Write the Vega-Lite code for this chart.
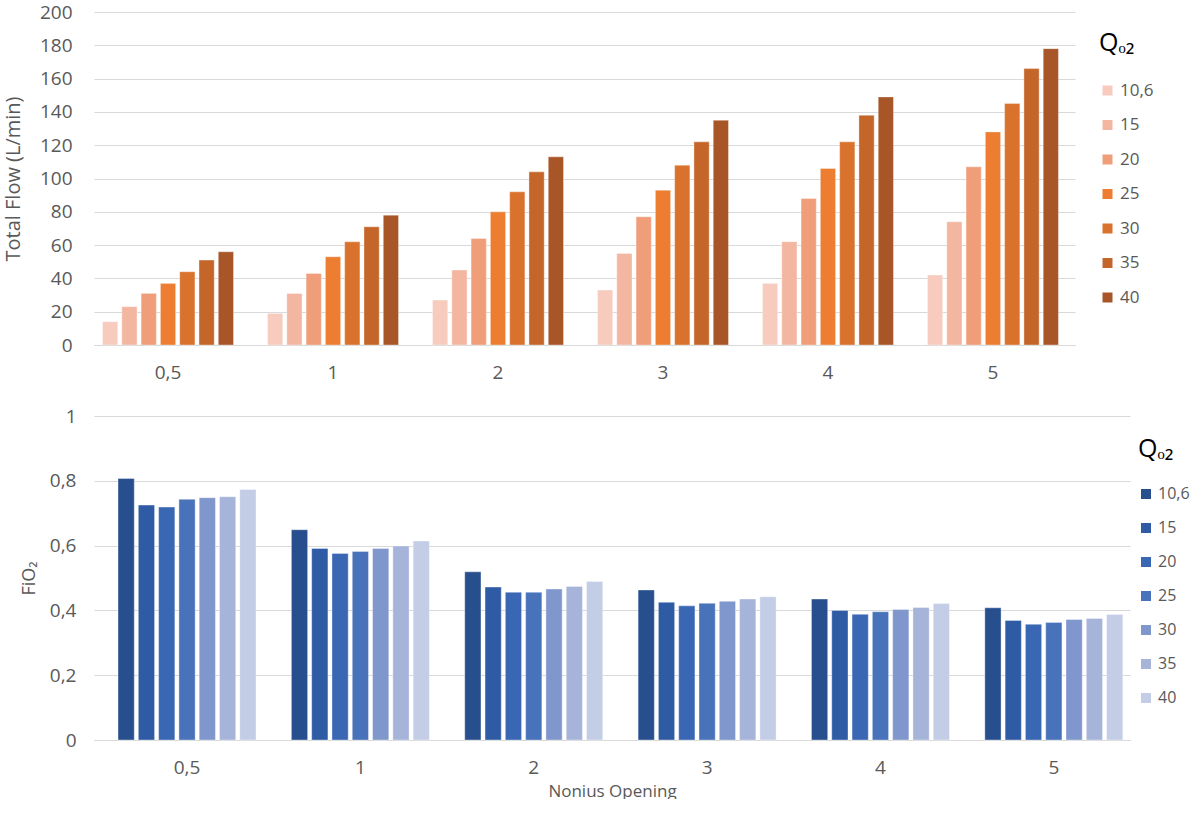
{
  "$schema": "https://vega.github.io/schema/vega-lite/v6.json",
  "padding": {"top": 3, "left": 3, "right": 0, "bottom": 0},
  "background": "white",
  "config": {
    "font": "Open Sans",
    "view": {"stroke": null},
    "axis": {
      "labelFont": "Open Sans",
      "titleFont": "Open Sans",
      "labelColor": "#595959",
      "titleColor": "#595959",
      "titleFontWeight": "normal",
      "gridColor": "#D9D9D9",
      "gridWidth": 1.2,
      "domainColor": "#D9D9D9",
      "domainWidth": 1.2,
      "ticks": false
    },
    "legend": {
      "titleFont": "Open Sans",
      "labelFont": "Open Sans",
      "titleFontWeight": "normal",
      "titleColor": "#000000",
      "titleFontSize": 25,
      "labelColor": "#595959",
      "labelFontSize": 16,
      "symbolType": "square",
      "symbolSize": 100,
      "symbolStrokeWidth": 0,
      "rowPadding": 18,
      "labelOffset": 4,
      "padding": 0
    }
  },
  "datasets": {
    "flow": [
      {"nonius": "0,5", "q": "10,6", "flow": 14},
      {"nonius": "0,5", "q": "15", "flow": 23},
      {"nonius": "0,5", "q": "20", "flow": 31},
      {"nonius": "0,5", "q": "25", "flow": 37},
      {"nonius": "0,5", "q": "30", "flow": 44},
      {"nonius": "0,5", "q": "35", "flow": 51},
      {"nonius": "0,5", "q": "40", "flow": 56},
      {"nonius": "1", "q": "10,6", "flow": 19},
      {"nonius": "1", "q": "15", "flow": 31},
      {"nonius": "1", "q": "20", "flow": 43},
      {"nonius": "1", "q": "25", "flow": 53},
      {"nonius": "1", "q": "30", "flow": 62},
      {"nonius": "1", "q": "35", "flow": 71},
      {"nonius": "1", "q": "40", "flow": 78},
      {"nonius": "2", "q": "10,6", "flow": 27},
      {"nonius": "2", "q": "15", "flow": 45},
      {"nonius": "2", "q": "20", "flow": 64},
      {"nonius": "2", "q": "25", "flow": 80},
      {"nonius": "2", "q": "30", "flow": 92},
      {"nonius": "2", "q": "35", "flow": 104},
      {"nonius": "2", "q": "40", "flow": 113},
      {"nonius": "3", "q": "10,6", "flow": 33},
      {"nonius": "3", "q": "15", "flow": 55},
      {"nonius": "3", "q": "20", "flow": 77},
      {"nonius": "3", "q": "25", "flow": 93},
      {"nonius": "3", "q": "30", "flow": 108},
      {"nonius": "3", "q": "35", "flow": 122},
      {"nonius": "3", "q": "40", "flow": 135},
      {"nonius": "4", "q": "10,6", "flow": 37},
      {"nonius": "4", "q": "15", "flow": 62},
      {"nonius": "4", "q": "20", "flow": 88},
      {"nonius": "4", "q": "25", "flow": 106},
      {"nonius": "4", "q": "30", "flow": 122},
      {"nonius": "4", "q": "35", "flow": 138},
      {"nonius": "4", "q": "40", "flow": 149},
      {"nonius": "5", "q": "10,6", "flow": 42},
      {"nonius": "5", "q": "15", "flow": 74},
      {"nonius": "5", "q": "20", "flow": 107},
      {"nonius": "5", "q": "25", "flow": 128},
      {"nonius": "5", "q": "30", "flow": 145},
      {"nonius": "5", "q": "35", "flow": 166},
      {"nonius": "5", "q": "40", "flow": 178}
    ],
    "fio2": [
      {"nonius": "0,5", "q": "10,6", "fio2": 0.807},
      {"nonius": "0,5", "q": "15", "fio2": 0.725},
      {"nonius": "0,5", "q": "20", "fio2": 0.719},
      {"nonius": "0,5", "q": "25", "fio2": 0.743},
      {"nonius": "0,5", "q": "30", "fio2": 0.748},
      {"nonius": "0,5", "q": "35", "fio2": 0.751},
      {"nonius": "0,5", "q": "40", "fio2": 0.773},
      {"nonius": "1", "q": "10,6", "fio2": 0.649},
      {"nonius": "1", "q": "15", "fio2": 0.591},
      {"nonius": "1", "q": "20", "fio2": 0.576},
      {"nonius": "1", "q": "25", "fio2": 0.582},
      {"nonius": "1", "q": "30", "fio2": 0.591},
      {"nonius": "1", "q": "35", "fio2": 0.599},
      {"nonius": "1", "q": "40", "fio2": 0.614},
      {"nonius": "2", "q": "10,6", "fio2": 0.519},
      {"nonius": "2", "q": "15", "fio2": 0.472},
      {"nonius": "2", "q": "20", "fio2": 0.456},
      {"nonius": "2", "q": "25", "fio2": 0.456},
      {"nonius": "2", "q": "30", "fio2": 0.466},
      {"nonius": "2", "q": "35", "fio2": 0.474},
      {"nonius": "2", "q": "40", "fio2": 0.489},
      {"nonius": "3", "q": "10,6", "fio2": 0.463},
      {"nonius": "3", "q": "15", "fio2": 0.425},
      {"nonius": "3", "q": "20", "fio2": 0.414},
      {"nonius": "3", "q": "25", "fio2": 0.422},
      {"nonius": "3", "q": "30", "fio2": 0.428},
      {"nonius": "3", "q": "35", "fio2": 0.435},
      {"nonius": "3", "q": "40", "fio2": 0.442},
      {"nonius": "4", "q": "10,6", "fio2": 0.435},
      {"nonius": "4", "q": "15", "fio2": 0.400},
      {"nonius": "4", "q": "20", "fio2": 0.388},
      {"nonius": "4", "q": "25", "fio2": 0.396},
      {"nonius": "4", "q": "30", "fio2": 0.403},
      {"nonius": "4", "q": "35", "fio2": 0.409},
      {"nonius": "4", "q": "40", "fio2": 0.421},
      {"nonius": "5", "q": "10,6", "fio2": 0.408},
      {"nonius": "5", "q": "15", "fio2": 0.369},
      {"nonius": "5", "q": "20", "fio2": 0.357},
      {"nonius": "5", "q": "25", "fio2": 0.363},
      {"nonius": "5", "q": "30", "fio2": 0.372},
      {"nonius": "5", "q": "35", "fio2": 0.375},
      {"nonius": "5", "q": "40", "fio2": 0.387}
    ]
  },
  "spacing": 25,
  "resolve": {"scale": {"color": "independent", "x": "independent", "xOffset": "independent"}, "legend": {"color": "independent"}},
  "vconcat": [
    {
      "width": 981,
      "height": 333,
      "data": {"name": "flow"},
      "mark": {"type": "bar", "stroke": "#ffffff", "strokeWidth": 0.6, "strokeOpacity": 0.6},
      "encoding": {
        "x": {
          "field": "nonius", "type": "nominal", "sort": null,
          "scale": {"paddingInner": 0.206, "paddingOuter": 0.076, "align": 0.34},
          "axis": {"title": null, "labelAngle": 0, "labelPadding": 18, "labelFontSize": 19}
        },
        "xOffset": {"field": "q", "type": "nominal", "sort": null, "scale": {"paddingInner": 0.21}},
        "y": {
          "field": "flow", "type": "quantitative",
          "scale": {"domain": [0, 200]},
          "axis": {
            "title": "Total Flow (L/min)", "titleFontSize": 20, "titlePadding": 16,
            "values": [0, 20, 40, 60, 80, 100, 120, 140, 160, 180, 200],
            "labelFontSize": 19, "labelPadding": 22, "domain": false
          }
        },
        "color": {
          "field": "q", "type": "nominal", "sort": null,
          "scale": {
            "domain": ["10,6", "15", "20", "25", "30", "35", "40"],
            "range": ["#F7CBBD", "#F3B6A1", "#F09E79", "#ED7D31", "#D9722D", "#C4662A", "#A85628"]
          },
          "legend": {"title": ["", "Q\u2092\u2082"], "titleLineHeight": 19, "orient": "right", "offset": 24, "titlePadding": 26, "labelFontSize": 17, "rowPadding": 16.5}
        }
      }
    },
    {
      "width": 1036,
      "height": 324,
      "data": {"name": "fio2"},
      "mark": {"type": "bar", "stroke": "#ffffff", "strokeWidth": 0.6, "strokeOpacity": 0.6},
      "encoding": {
        "x": {
          "field": "nonius", "type": "nominal", "sort": null,
          "scale": {"paddingInner": 0.204, "paddingOuter": 0.09, "align": 0.77},
          "axis": {"title": "Nonius Opening", "titleFontSize": 17, "titlePadding": 6, "labelAngle": 0, "labelPadding": 18, "labelFontSize": 19}
        },
        "xOffset": {"field": "q", "type": "nominal", "sort": null, "scale": {"paddingInner": 0.2}},
        "y": {
          "field": "fio2", "type": "quantitative",
          "scale": {"domain": [0, 1]},
          "axis": {
            "title": "FiO\u2082", "titleFontSize": 18, "titlePadding": 11,
            "values": [0, 0.2, 0.4, 0.6, 0.8, 1],
            "labelExpr": "replace(format(datum.value, '~g'), '.', ',')",
            "labelFontSize": 19, "labelPadding": 18, "domain": false
          }
        },
        "color": {
          "field": "q", "type": "nominal", "sort": null,
          "scale": {
            "domain": ["10,6", "15", "20", "25", "30", "35", "40"],
            "range": ["#284F8D", "#2F5BA5", "#3A67B3", "#4873BA", "#8097CD", "#A6B4DA", "#C3CDE6"]
          },
          "legend": {"title": ["", "Q\u2092\u2082"], "titleLineHeight": 21, "orient": "right", "offset": 8, "titlePadding": 24}
        }
      }
    }
  ]
}
